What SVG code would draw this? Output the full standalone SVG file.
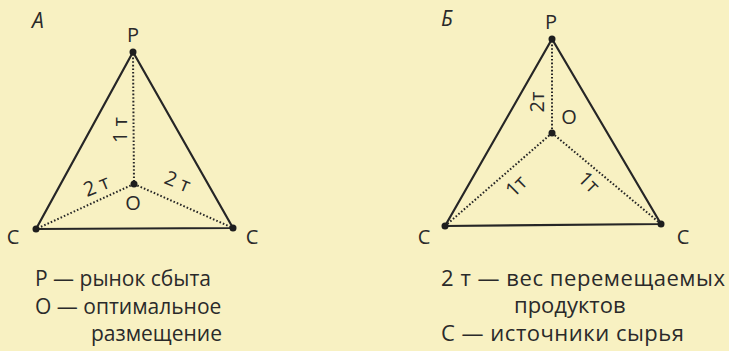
<svg xmlns="http://www.w3.org/2000/svg" width="729" height="351" viewBox="0 0 729 351">
<style>
.bg{fill:#f8f1c2}
.tri{fill:none;stroke:#262626;stroke-width:2.2;stroke-linejoin:round}
.dot{fill:none;stroke:#262626;stroke-width:2;stroke-dasharray:1.6 2}
.pt{fill:#1e1e1e}
text{font-family:"Open Sans","Noto Sans",sans-serif;fill:#2a2a2a;font-size:20px}
.lbl{text-anchor:middle}
.ttl{font-style:italic;font-size:21px}
.la{font-size:21px}
.lb{font-size:22px}
</style>
<rect class="bg" width="729" height="351"/>
<g id="connectors">
<polygon class="tri" points="133,52 36,229 233,228"/>
<line class="dot" x1="133" y1="54" x2="134" y2="184"/>
<line class="dot" x1="134" y1="184" x2="36" y2="229"/>
<line class="dot" x1="134" y1="184" x2="233" y2="228"/>
<polygon class="tri" points="552,39 445,226 661,224"/>
<line class="dot" x1="552" y1="41" x2="552" y2="133"/>
<line class="dot" x1="552" y1="133" x2="445" y2="226"/>
<line class="dot" x1="552" y1="133" x2="661" y2="224"/>
</g>
<g id="diagramA">
<text class="ttl" x="32" y="28">А</text>
<g id="A-P"><circle class="pt" cx="133" cy="52" r="3.5"/><text class="lbl" x="133" y="42">Р</text></g>
<g id="A-O"><circle class="pt" cx="134" cy="184" r="3.5"/><text class="lbl" x="133" y="210">О</text></g>
<g id="A-C1"><circle class="pt" cx="36" cy="229" r="3.5"/><text class="lbl" x="13" y="244">С</text></g>
<g id="A-C2"><circle class="pt" cx="233" cy="228" r="3.5"/><text class="lbl" x="252" y="244">С</text></g>
<text class="lbl" transform="translate(127,130) rotate(-90)">1 т</text>
<text class="lbl" transform="translate(99,192) rotate(-22)">2 т</text>
<text class="lbl" transform="translate(175,188) rotate(22)">2 т</text>
</g>
<g id="diagramB">
<text class="ttl" x="441" y="26">Б</text>
<g id="B-P"><circle class="pt" cx="552" cy="39" r="3.5"/><text class="lbl" x="551" y="29">Р</text></g>
<g id="B-O"><circle class="pt" cx="552" cy="133" r="3.5"/><text class="lbl" x="569" y="124">О</text></g>
<g id="B-C1"><circle class="pt" cx="445" cy="226" r="3.5"/><text class="lbl" x="424" y="244">С</text></g>
<g id="B-C2"><circle class="pt" cx="661" cy="224" r="3.5"/><text class="lbl" x="683" y="244">С</text></g>
<text class="lbl" transform="translate(544,102) rotate(-90)">2т</text>
<text class="lbl" transform="translate(521,191) rotate(-45)">1т</text>
<text class="lbl" transform="translate(584,187) rotate(45)">1т</text>
</g>
<g id="legendA">
<text class="la" x="35" y="286">Р — рынок сбыта</text>
<text class="la" x="35" y="314">О — оптимальное</text>
<text class="la" x="91" y="341">размещение</text>
</g>
<g id="legendB">
<text class="lb" x="441" y="286" textLength="284">2 т — вес перемещаемых</text>
<text class="lb" x="514" y="313">продуктов</text>
<text class="lb" x="441" y="341" textLength="243">С — источники сырья</text>
</g>
</svg>
